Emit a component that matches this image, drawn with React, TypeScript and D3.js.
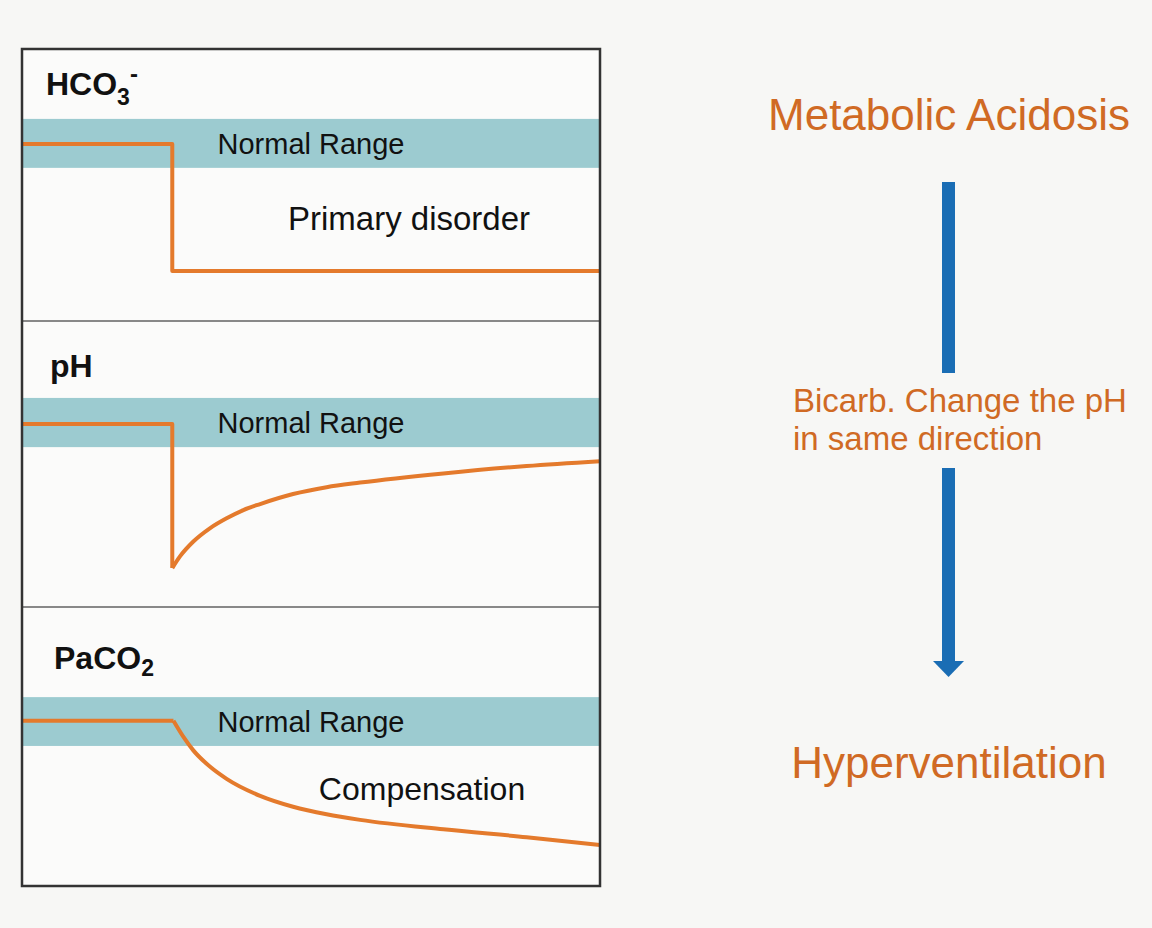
import React from "react";
import * as d3 from "d3";

// ---------- data (abstract units, 0 = bottom of panel, 100 = top) ----------
const panelNames = ["HCO3", "pH", "PaCO2"];
const normalLow = [56.3, 55.9, 50.2];
const normalHigh = [74.3, 73.1, 67.7];
const rangeLabels = ["Normal Range", "Normal Range", "Normal Range"];

const onsetTime = 2.6;
const timeDomain: [number, number] = [0, 10];

const hco3Series: [number, number][] = [
  [0, 65.1],
  [2.6, 65.1],
  [2.6, 18.4],
  [10, 18.4],
];

const phDrop: [number, number][] = [
  [0, 64.0],
  [2.6, 64.0],
  [2.6, 13.6],
];
const phRecovery: [number, number][] = [
  [2.6, 13.6],
  [2.73, 17.6],
  [2.96, 22.8],
  [3.25, 27.5],
  [3.54, 31.0],
  [3.83, 33.9],
  [4.12, 36.0],
  [4.69, 39.5],
  [5.27, 41.9],
  [5.85, 43.5],
  [7.29, 46.7],
  [8.73, 49.3],
  [10, 51.0],
];

const paco2Baseline: [number, number][] = [
  [0, 59.2],
  [2.62, 59.2],
];
const paco2Compensation: [number, number][] = [
  [2.62, 59.2],
  [2.79, 53.5],
  [2.96, 48.7],
  [3.25, 42.8],
  [3.54, 38.4],
  [4.12, 32.3],
  [4.69, 28.4],
  [5.27, 25.7],
  [5.85, 23.7],
  [7.29, 20.3],
  [8.73, 17.5],
  [10, 14.7],
];

const annotations = ["Primary disorder", "", "Compensation"];
const titleTop = "Metabolic Acidosis";
const titleBottom = "Hyperventilation";
const arrowNote = ["Bicarb. Change the pH", "in same direction"];

// ---------- layout ----------
const W = 1152;
const H = 928;
const boxLeft = 22;
const boxRight = 600;
const panelTops = [49, 321, 607];
const panelBottoms = [321, 607, 886];

const ORANGE_LINE = "#e47a2c";
const ORANGE_TEXT = "#d06a24";
const BAND = "#9ccbd0";
const BLUE = "#1a6db4";
const FONT = "'Liberation Sans', Arial, Helvetica, sans-serif";

export default function App() {
  const x = d3.scaleLinear().domain(timeDomain).range([boxLeft, boxRight]);
  const yScales = panelTops.map((t, i) =>
    d3.scaleLinear().domain([0, 100]).range([panelBottoms[i], t])
  );

  const linearLine = (ys: d3.ScaleLinear<number, number>) =>
    d3
      .line<[number, number]>()
      .x((d) => x(d[0]))
      .y((d) => ys(d[1]))
      .curve(d3.curveLinear);
  const smoothLine = (ys: d3.ScaleLinear<number, number>) =>
    d3
      .line<[number, number]>()
      .x((d) => x(d[0]))
      .y((d) => ys(d[1]))
      .curve(d3.curveMonotoneX);

  const paths: string[] = [
    linearLine(yScales[0])(hco3Series) || "",
    linearLine(yScales[1])(phDrop) || "",
    smoothLine(yScales[1])(phRecovery) || "",
    linearLine(yScales[2])(paco2Baseline) || "",
    smoothLine(yScales[2])(paco2Compensation) || "",
  ];

  const arrowX = 948.5;

  return (
    <svg
      width={W}
      height={H}
      viewBox={`0 0 ${W} ${H}`}
      style={{ position: "absolute", left: 0, top: 0, display: "block" }}
    >
      <rect x={0} y={0} width={W} height={H} fill="#f7f7f5" />
      <rect
        x={boxLeft}
        y={panelTops[0]}
        width={boxRight - boxLeft}
        height={panelBottoms[2] - panelTops[0]}
        fill="#fbfbfa"
      />

      {panelNames.map((name, i) => (
        <g key={name}>
          <rect
            x={boxLeft}
            y={yScales[i](normalHigh[i])}
            width={boxRight - boxLeft}
            height={yScales[i](normalLow[i]) - yScales[i](normalHigh[i])}
            fill={BAND}
          />
          <text
            x={x(5.0)}
            y={[154, 433, 732][i]}
            textAnchor="middle"
            fontFamily={FONT}
            fontSize={29}
            fill="#111"
          >
            {rangeLabels[i]}
          </text>
        </g>
      ))}

      {paths.map((d, i) => (
        <path
          key={i}
          d={d}
          fill="none"
          stroke={ORANGE_LINE}
          strokeWidth={4}
          strokeLinejoin="round"
        />
      ))}

      {/* annotations */}
      <text
        x={409}
        y={230}
        textAnchor="middle"
        fontFamily={FONT}
        fontSize={33}
        fill="#111"
      >
        {annotations[0]}
      </text>
      <text
        x={422}
        y={800}
        textAnchor="middle"
        fontFamily={FONT}
        fontSize={32}
        fill="#111"
      >
        {annotations[2]}
      </text>

      {/* panel labels */}
      <text x={46} y={95} fontFamily={FONT} fontWeight="bold" fontSize={32} fill="#111">
        HCO
        <tspan fontSize={23} dy={10}>3</tspan>
        <tspan fontSize={24} dy={-23}>-</tspan>
      </text>
      <text x={50} y={377} fontFamily={FONT} fontWeight="bold" fontSize={32} fill="#111">
        pH
      </text>
      <text x={54} y={669} fontFamily={FONT} fontWeight="bold" fontSize={32} fill="#111">
        PaCO
        <tspan fontSize={23} dy={7}>2</tspan>
      </text>

      {/* dividers and frame */}
      {[panelBottoms[0], panelBottoms[1]].map((y) => (
        <line
          key={y}
          x1={boxLeft}
          x2={boxRight}
          y1={y}
          y2={y}
          stroke="#888"
          strokeWidth={2}
        />
      ))}
      <rect
        x={boxLeft}
        y={panelTops[0]}
        width={boxRight - boxLeft}
        height={panelBottoms[2] - panelTops[0]}
        fill="none"
        stroke="#333"
        strokeWidth={2.5}
      />

      {/* right side */}
      <text
        x={949}
        y={130}
        textAnchor="middle"
        fontFamily={FONT}
        fontSize={44}
        fill={ORANGE_TEXT}
      >
        {titleTop}
      </text>
      <text
        x={949}
        y={778}
        textAnchor="middle"
        fontFamily={FONT}
        fontSize={44}
        fill={ORANGE_TEXT}
      >
        {titleBottom}
      </text>
      {arrowNote.map((t, i) => (
        <text
          key={i}
          x={793}
          y={412 + i * 38}
          fontFamily={FONT}
          fontSize={33}
          fill={ORANGE_TEXT}
        >
          {t}
        </text>
      ))}

      <rect x={arrowX - 6.5} y={182} width={13} height={191} fill={BLUE} />
      <rect x={arrowX - 6.5} y={468} width={13} height={194} fill={BLUE} />
      <path
        d={`M${arrowX - 15.5},661 L${arrowX + 15.5},661 L${arrowX},677 Z`}
        fill={BLUE}
      />
    </svg>
  );
}
